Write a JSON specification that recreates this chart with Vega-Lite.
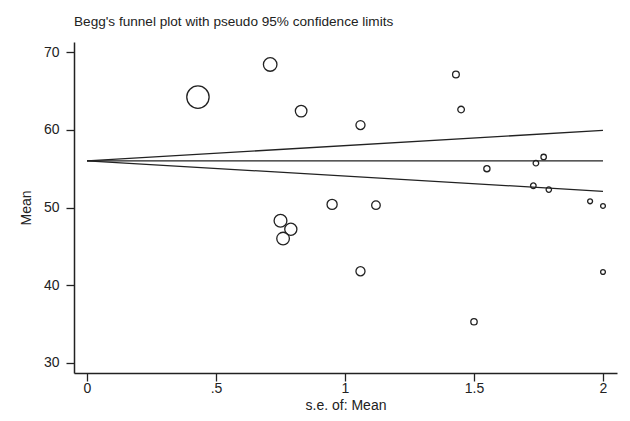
{
  "$schema": "https://vega.github.io/schema/vega-lite/v6.json",
  "width": 543,
  "height": 331,
  "autosize": {"type": "none"},
  "padding": {"left": 74, "top": 42, "right": 13, "bottom": 48},
  "background": "white",
  "config": {
    "view": {"stroke": null},
    "font": "Liberation Sans, Arial, sans-serif",
    "axis": {
      "grid": false,
      "domainColor": "#222",
      "domainWidth": 1.5,
      "tickColor": "#222",
      "tickWidth": 1.3,
      "tickSize": 8,
      "labelFont": "Liberation Sans, Arial, sans-serif",
      "labelFontSize": 14,
      "labelColor": "#222",
      "titleFont": "Liberation Sans, Arial, sans-serif",
      "titleFontSize": 14,
      "titleFontWeight": "normal",
      "titleColor": "#222"
    }
  },
  "title": {
    "text": "Begg's funnel plot with pseudo 95% confidence limits",
    "anchor": "start",
    "frame": "group",
    "font": "Liberation Sans, Arial, sans-serif",
    "fontSize": 13.6,
    "fontWeight": "normal",
    "color": "#222",
    "baseline": "alphabetic",
    "offset": 14,
    "dy": 12
  },
  "datasets": {
    "studies": [
      {"se": 0.43, "mean": 64.2},
      {"se": 0.71, "mean": 68.4},
      {"se": 0.83, "mean": 62.4},
      {"se": 1.06, "mean": 60.6},
      {"se": 1.43, "mean": 67.1},
      {"se": 1.45, "mean": 62.6},
      {"se": 1.55, "mean": 55.0},
      {"se": 1.74, "mean": 55.7},
      {"se": 1.77, "mean": 56.5},
      {"se": 1.73, "mean": 52.8},
      {"se": 1.79, "mean": 52.3},
      {"se": 1.95, "mean": 50.8},
      {"se": 2.0, "mean": 50.2},
      {"se": 0.95, "mean": 50.4},
      {"se": 1.12, "mean": 50.3},
      {"se": 1.06, "mean": 41.8},
      {"se": 1.5, "mean": 35.3},
      {"se": 2.0, "mean": 41.7},
      {"se": 0.75, "mean": 48.3},
      {"se": 0.79, "mean": 47.2},
      {"se": 0.76, "mean": 46.0}
    ],
    "limits": [
      {"series": "pooled", "se0": 0, "m0": 56, "se1": 2, "m1": 56},
      {"series": "upper", "se0": 0, "m0": 56, "se1": 2, "m1": 59.92},
      {"series": "lower", "se0": 0, "m0": 56, "se1": 2, "m1": 52.08}
    ]
  },
  "layer": [
    {
      "data": {"name": "limits"},
      "mark": {"type": "rule", "color": "#222", "strokeWidth": 1.3},
      "encoding": {
        "x": {"field": "se0", "type": "quantitative",
              "scale": {"domain": [-0.0504, 2.0543], "nice": false, "zero": false},
              "axis": {"values": [0, 0.5, 1, 1.5, 2], "format": "~g",
                       "labelExpr": "datum.value == 0.5 ? '.5' : datum.label",
                       "labelPadding": 0, "title": "s.e. of: Mean", "titlePadding": 3}},
        "y": {"field": "m0", "type": "quantitative",
              "scale": {"domain": [28.71, 71.29], "nice": false, "zero": false},
              "axis": {"values": [30, 40, 50, 60, 70], "labelPadding": 7,
                       "title": "Mean", "titlePadding": 10}},
        "x2": {"field": "se1"},
        "y2": {"field": "m1"}
      }
    },
    {
      "data": {"name": "studies"},
      "mark": {"type": "point", "shape": "circle", "filled": false, "stroke": "#222", "strokeWidth": 1.3, "opacity": 1},
      "encoding": {
        "x": {"field": "se", "type": "quantitative"},
        "y": {"field": "mean", "type": "quantitative"},
        "size": {"field": "se", "type": "quantitative",
                 "scale": {"type": "pow", "exponent": -2, "domain": [0.43, 2], "range": [500, 23], "zero": false, "nice": false},
                 "legend": null}
      }
    }
  ]
}
